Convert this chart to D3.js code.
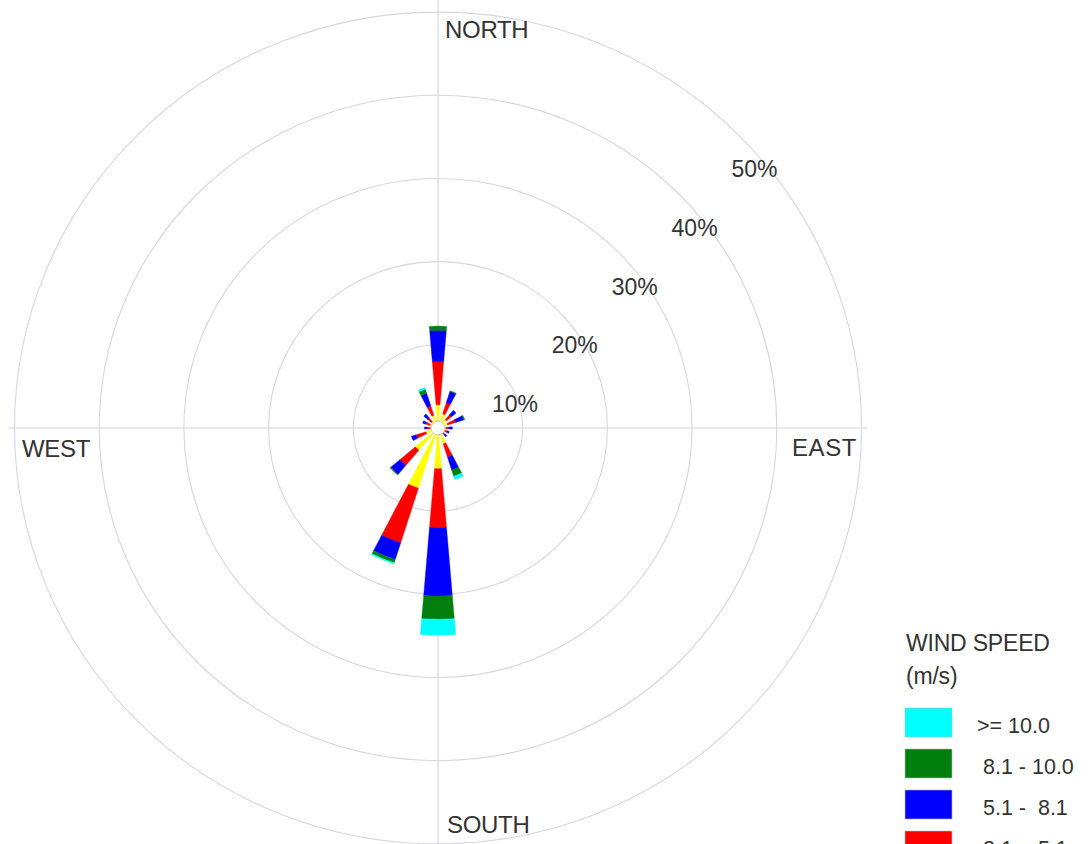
<!DOCTYPE html>
<html>
<head>
<meta charset="utf-8">
<script src="https://cdn.jsdelivr.net/npm/d3@7"></script>
<style>
  html, body { margin: 0; padding: 0; background: #ffffff; }
  svg { display: block; }
  text { font-family: "Liberation Sans", Arial, sans-serif; fill: #333333; }
</style>
</head>
<body>
<svg id="chart" width="1090" height="844"></svg>
<script>
// ---- Data ----
const directions = ["N","NNE","NE","ENE","E","ESE","SE","SSE","S","SSW","SW","WSW","W","WNW","NW","NNW"];
const speedLabels = [">= 10.0", " 8.1 - 10.0", " 5.1 -  8.1", " 2.1 -  5.1"];
const speedColors = ["#00ffff", "#007f0e", "#0000ff", "#ff0000"];
// frequency (%) per direction for each speed class, innermost class first
const speed05to21 = [2.8, 1.8, 1.3, 1.2, 0.9, 0.8, 0.8, 2.0, 4.9, 7.6, 3.5, 1.5, 0.9, 1.0, 1.0, 1.6];
const speed21to51 = [5.2, 1.4, 0.8, 1.0, 0.4, 0.3, 0.3, 1.7, 7.1, 6.9, 2.4, 1.2, 0.4, 0.5, 0.6, 1.2];
const speed51to81 = [3.75,1.4, 0.7, 1.0, 0.4, 0.3, 0.3, 1.6, 8.2, 2.1, 1.4, 0.6, 0.3, 0.4, 0.6, 1.6];
const speed81to10 = [0.5, 0.1, 0.0, 0.1, 0.0, 0.0, 0.0, 0.8, 2.8, 0.4, 0.1, 0.0, 0.0, 0.0, 0.0, 0.5];
const speedGe10   = [0.0, 0.0, 0.0, 0.0, 0.0, 0.0, 0.0, 0.4, 1.9, 0.15,0.0, 0.0, 0.0, 0.0, 0.0, 0.2];
const ringTicks = [10, 20, 30, 40, 50];
const compassLabels = ["NORTH", "EAST", "SOUTH", "WEST"];
const legendTitle = ["WIND SPEED", "(m/s)"];

// ---- Layout ----
const cx = 438, cy = 428;
const yScaleFactor = 0.982;
const r = d3.scaleLinear().domain([0, 50]).range([0, 423.5]);
const sector = 2 * Math.PI / directions.length;
const halfBar = (9.6 / 2) * Math.PI / 180;

const svg = d3.select("#chart");
const polar = svg.append("g").attr("transform", `translate(${cx},${cy}) scale(1,${yScaleFactor})`);

// rings
polar.selectAll("circle.ring").data(ringTicks).enter().append("circle")
  .attr("class", "ring")
  .attr("r", d => r(d))
  .attr("fill", "none")
  .attr("stroke", "#d6d6e2")
  .attr("stroke-width", 1.1);

// axes
const ext = r(50) + 6;
polar.append("line").attr("x1", -ext).attr("x2", ext).attr("y1", 0).attr("y2", 0)
  .attr("stroke", "#d2d2de").attr("stroke-width", 1.1);
polar.append("line").attr("x1", 0).attr("x2", 0).attr("y1", -ext - 10).attr("y2", ext + 10)
  .attr("stroke", "#d2d2de").attr("stroke-width", 1.1);

// stacked bars (inner to outer)
const series = [speed05to21, speed21to51, speed51to81, speed81to10, speedGe10];
const seriesColors = ["#ffff00", "#ff0000", "#0000ff", "#007f0e", "#00ffff"];
const segs = [];
directions.forEach((dir, i) => {
  let cum = 0;
  series.forEach((s, k) => {
    const v = s[i];
    if (v > 0) {
      segs.push({ dir: i, k: k, r0: cum, r1: cum + v });
    }
    cum += v;
  });
});
const arc = d3.arc()
  .innerRadius(d => r(d.r0))
  .outerRadius(d => r(d.r1))
  .startAngle(d => d.dir * sector - halfBar)
  .endAngle(d => d.dir * sector + halfBar);
polar.selectAll("path.seg").data(segs).enter().append("path")
  .attr("class", "seg")
  .attr("d", arc)
  .attr("fill", d => seriesColors[d.k])
  .attr("stroke", d => seriesColors[d.k])
  .attr("stroke-width", 0.4);

// calm circle
polar.append("circle").attr("r", 7).attr("fill", "#ffffff").attr("stroke", "#bbbbbb").attr("stroke-width", 0.8);

// ring labels
svg.selectAll("text.ringlab").data(ringTicks).enter().append("text")
  .attr("class", "ringlab")
  .attr("x", d => cx + r(d) * Math.SQRT1_2 - 6)
  .attr("y", d => cy - r(d) * Math.SQRT1_2 * yScaleFactor + 43)
  .attr("font-size", 23)
  .text(d => d + "%");

// compass labels
const compassPos = [
  { x: 445, y: 38 },
  { x: 792, y: 456 },
  { x: 447, y: 833 },
  { x: 22, y: 457 }
];
svg.selectAll("text.compass").data(compassLabels).enter().append("text")
  .attr("class", "compass")
  .attr("x", (d, i) => compassPos[i].x)
  .attr("y", (d, i) => compassPos[i].y)
  .attr("font-size", 24)
  .attr("letter-spacing", (d) => d === "EAST" ? 0.6 : -0.3)
  .text(d => d);

// legend
const lg = svg.append("g");
lg.selectAll("text.lt").data(legendTitle).enter().append("text")
  .attr("class", "lt")
  .attr("x", 906)
  .attr("y", (d, i) => 651 + i * 33)
  .attr("font-size", 23)
  .attr("letter-spacing", -0.2)
  .text(d => d);
lg.selectAll("rect.sw").data(speedLabels).enter().append("rect")
  .attr("class", "sw")
  .attr("x", 905)
  .attr("y", (d, i) => 708 + i * 41)
  .attr("width", 47)
  .attr("height", 29)
  .attr("fill", (d, i) => speedColors[i])
  .attr("stroke", "#bbbbbb")
  .attr("stroke-width", 0.6);
lg.selectAll("text.sl").data(speedLabels).enter().append("text")
  .attr("class", "sl")
  .attr("x", 977)
  .attr("y", (d, i) => 733 + i * 41)
  .attr("font-size", 21.5)
  .style("white-space", "pre")
  .text(d => d);
</script>
</body>
</html>
